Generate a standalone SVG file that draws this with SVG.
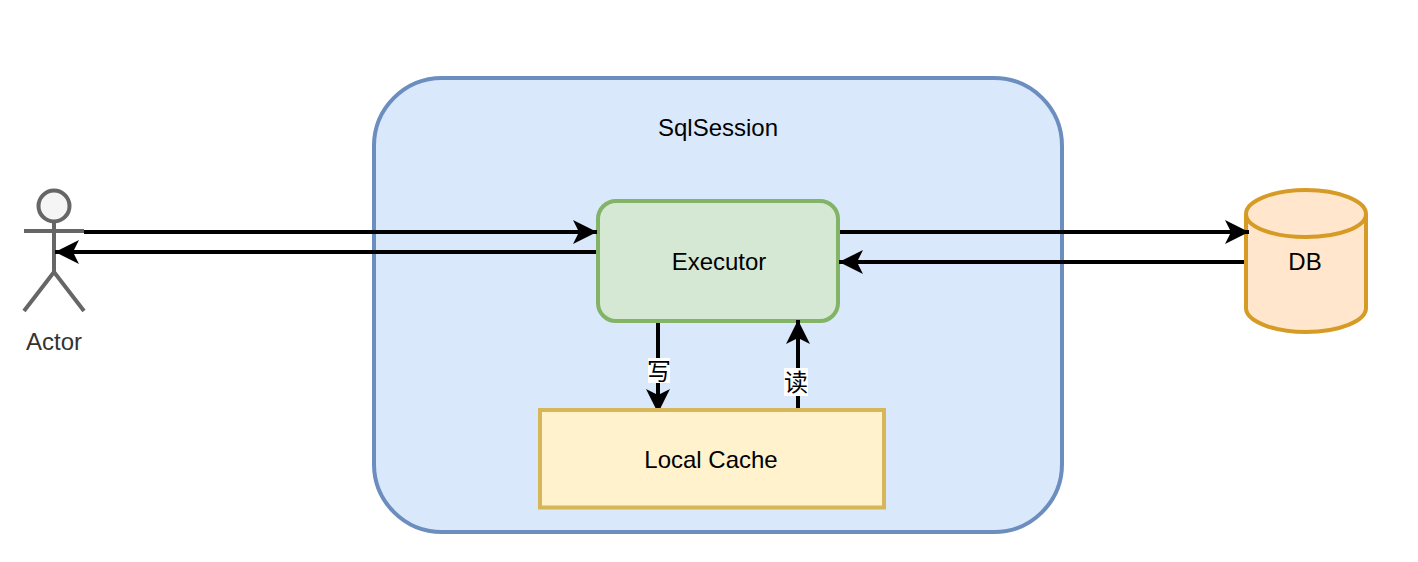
<svg xmlns="http://www.w3.org/2000/svg" width="1418" height="562" viewBox="0 0 1418 562">
<style>
text{font-family:"Liberation Sans",Arial,"Noto Sans CJK SC",sans-serif;font-size:24px;fill:#000;text-anchor:middle}
.conn{fill:none;stroke:#000;stroke-width:4;marker-end:url(#arrow)}
.lbl{fill:#fff}
.actor{fill:none;stroke:#666;stroke-width:4;stroke-linecap:butt}
</style>
<defs>
<marker id="arrow" markerUnits="userSpaceOnUse" viewBox="0 0 24 24" markerWidth="24" markerHeight="24" refX="24" refY="12" orient="auto">
<path d="M0 0L24 12L0 24L6 12Z" fill="#000"/>
</marker>
</defs>
<rect width="1418" height="562" fill="#fff"/>
<g id="sqlsession">
<rect x="374" y="78" width="688" height="454" rx="68" fill="#dae8fc" stroke="#6c8ebf" stroke-width="4"/>
<text x="718" y="136">SqlSession</text>
</g>
<g id="executor">
<rect x="598" y="201" width="240" height="120" rx="18" fill="#d5e8d4" stroke="#82b366" stroke-width="4"/>
<text x="719" y="270">Executor</text>
</g>
<g id="db">
<path d="M1246 214C1246 201 1273 190 1306 190C1339 190 1366 201 1366 214V308C1366 321 1339 332 1306 332C1273 332 1246 321 1246 308Z" fill="#ffe6cc" stroke="#d69b24" stroke-width="4"/>
<path d="M1246 214C1246 227 1273 237 1306 237C1339 237 1366 227 1366 214" fill="none" stroke="#d69b24" stroke-width="4"/>
<text x="1305" y="270">DB</text>
</g>
<g id="actor">
<circle cx="54" cy="206" r="15.5" fill="#f5f5f5" stroke="#666" stroke-width="4"/>
<path class="actor" d="M54 222V272M24 231H84M24 311L54 272L84 311"/>
<text x="54" y="350" style="fill:#333">Actor</text>
</g>
<g id="connectors">
<path class="conn" d="M84 232H597"/>
<path class="conn" d="M596 252H55"/>
<path class="conn" d="M840 232H1249"/>
<path class="conn" d="M1244 262H839"/>
<path class="conn" d="M658 323V413"/>
<path class="conn" d="M798 408V320"/>
<rect class="lbl" x="648" y="358" width="22" height="25"/>
<text x="659" y="380">写</text>
<rect class="lbl" x="784" y="368" width="24" height="28"/>
<text x="796" y="391">读</text>
</g>
<g id="local-cache">
<rect x="540" y="410" width="344" height="97.5" fill="#fff2cc" stroke="#d6b656" stroke-width="4"/>
<text x="711" y="468">Local Cache</text>
</g>
</svg>
